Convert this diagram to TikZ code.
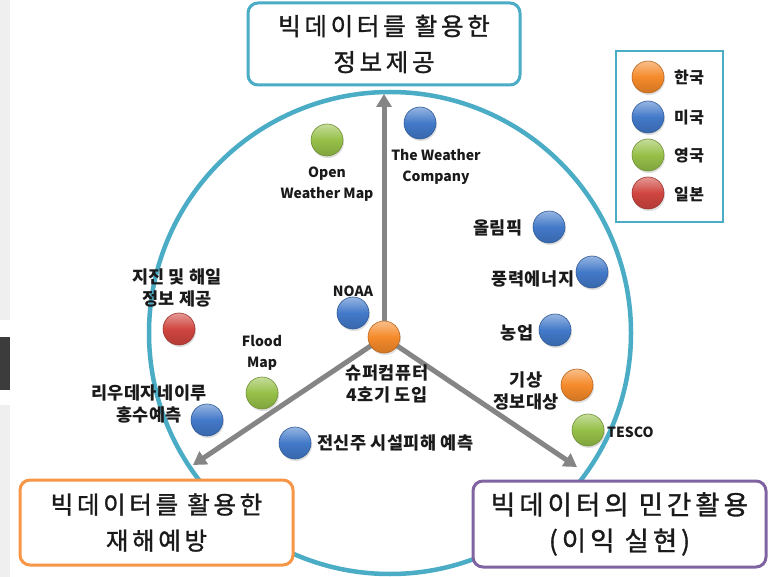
\documentclass[tikz,border=0pt]{standalone}
\usepackage{fontspec}
\newfontfamily\krbig[LetterSpace=15,FakeBold=1.2]{Noto Sans CJK KR}
\newfontfamily\krbigw[LetterSpace=15,FakeBold=1.2]{Noto Sans CJK KR}
\newfontfamily\krlab[LetterSpace=3,WordSpace=0.9]{Noto Sans CJK KR}
\newfontfamily\enlab{Noto Sans CJK KR}
\usetikzlibrary{arrows.meta,shadows}
\definecolor{aqua}{HTML}{4BACC6}
\definecolor{boxorange}{HTML}{F79646}
\definecolor{boxpurple}{HTML}{8064A2}
\definecolor{orng}{HTML}{F58A2A}
\definecolor{blu}{HTML}{4279C9}
\definecolor{grn}{HTML}{96C048}
\definecolor{rd}{HTML}{D0453F}
\definecolor{arrowgray}{HTML}{858585}
\definecolor{stripl}{HTML}{EFEFEF}
\definecolor{stripd}{HTML}{3C3C3C}
\definecolor{txt}{HTML}{1A1A1A}
\tikzset{
  ball/.style={circle, minimum size=32, inner sep=0, draw=#1!75!black, line width=0.6,
    top color=#1!55!white, bottom color=#1!85!black, middle color=#1,
    drop shadow={opacity=0.25, shadow xshift=1pt, shadow yshift=-2pt}},
  bigbox/.style={rounded corners=10, line width=3, fill=white, align=center, inner sep=0,
    text=txt, font=\krbig\fontsize{24.5}{36}\selectfont},
  lab/.style={align=center, inner sep=0, text=txt, font=\krlab\bfseries\fontsize{17.5}{22}\selectfont},
  enl/.style={align=center, inner sep=0, text=txt, font=\enlab\bfseries\fontsize{14}{21}\selectfont},
  leg/.style={anchor=west, inner sep=0, text=txt, font=\krlab\bfseries\fontsize{16}{20}\selectfont},
  garrow/.style={draw=arrowgray, line width=5, -{Triangle[length=13, width=15]}}
}
\begin{document}
\begin{tikzpicture}[x=1pt,y=-1pt]
\useasboundingbox (0,0) rectangle (771,577);
\fill[white] (0,0) rectangle (771,577);
\fill[stripl] (0,0) rectangle (10,320);
\fill[stripd] (0,337) rectangle (10,390);
\fill[stripl] (0,405) rectangle (10,577);

% ring
\node[draw=aqua, line width=4.5, circle, minimum size=482, inner sep=0] (ring) at (390,333) {};

% arrows from hub
\coordinate (hubc) at (384,337);
\coordinate (tN) at (384,94);
\coordinate (tW) at (193,465);
\coordinate (tE) at (577,467);
\draw[garrow] (hubc) -- (tN);
\draw[garrow] (hubc) -- (tW);
\draw[garrow] (hubc) -- (tE);
\node[ball=orng] (hub) at (hubc) {};
\node[lab] (hublab) at (387,384) {슈퍼컴퓨터\\4호기 도입};

% boxes
\node[bigbox, draw=aqua, minimum width=272, minimum height=82] (topbox) at (384,44) {빅데이터를 활용한\\정보제공};
\node[bigbox, draw=boxorange, minimum width=273, minimum height=85] (leftbox) at (156.5,522.5) {빅데이터를 활용한\\재해예방};
\node[bigbox, draw=boxpurple, minimum width=293, minimum height=86, font=\krbigw\fontsize{26.5}{36}\selectfont] (rightbox) at (619.5,524) {빅데이터의 민간활용\\(이익 실현)};

% legend
\node[draw=aqua, line width=2, fill=white, minimum width=107, minimum height=171, inner sep=0] (legend) at (669.5,136.5) {};
\node[ball=orng] (lg1) at (648,77) {};
\node[ball=blu] (lg2) at (648,117) {};
\node[ball=grn] (lg3) at (648,155) {};
\node[ball=rd] (lg4) at (648,193) {};
\node[leg] (lt1) at (674,78) {한국};
\node[leg] (lt2) at (674,118) {미국};
\node[leg] (lt3) at (674,156) {영국};
\node[leg] (lt4) at (674,194) {일본};

% items
\node[ball=grn] (owm) at (327,140) {};
\node[enl] (owmlab) at (327,184) {Open\\Weather Map};
\node[ball=blu] (twc) at (420,123) {};
\node[enl] (twclab) at (436,167) {The Weather\\Company};
\node[ball=blu] (oly) at (549,227) {};
\node[lab] (olylab) at (498,228) {올림픽};
\node[ball=blu] (wind) at (592,272) {};
\node[lab] (windlab) at (533,279) {풍력에너지};
\node[ball=blu] (noaa) at (353,313) {};
\node[enl] (noaalab) at (353,291) {NOAA};
\node[ball=blu] (agri) at (555,330) {};
\node[lab] (agrilab) at (517,333) {농업};
\node[ball=orng] (wx) at (577,385) {};
\node[lab] (wxlab) at (526,391) {기상\\정보대상};
\node[ball=grn] (tesco) at (588,430) {};
\node[enl, anchor=west] (tescolab) at (607,432) {TESCO};
\node[ball=blu] (pole) at (295,443) {};
\node[lab, anchor=west] (polelab) at (317,443) {전신주 시설피해 예측};
\node[ball=rd] (quake) at (179,329) {};
\node[lab] (quakelab) at (177,288) {지진 및 해일\\정보 제공};
\node[ball=grn] (flood) at (262,393) {};
\node[enl] (floodlab) at (262,353) {Flood\\Map};
\node[ball=blu] (rio) at (207,420) {};
\node[lab] (riolab) at (149,404) {리우데자네이루\\홍수예측};
\end{tikzpicture}
\end{document}
